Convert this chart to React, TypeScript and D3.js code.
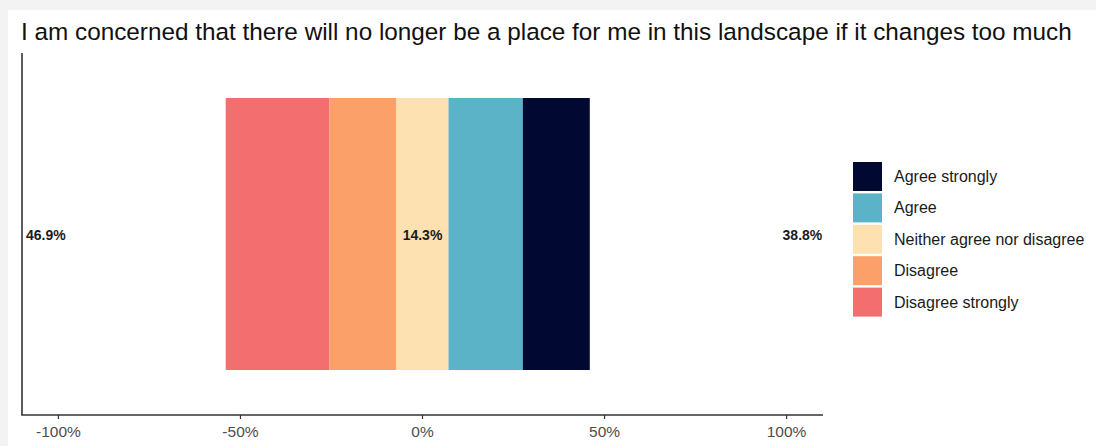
import React from "react";
import * as d3 from "d3";

const question = "I am concerned that there will no longer be a place for me in this landscape if it changes too much";
const categories = ["Disagree strongly", "Disagree", "Neither agree nor disagree", "Agree", "Agree strongly"];
const values = [28.5, 18.4, 14.3, 20.4, 18.4];
const colors = ["#F36F6F", "#FBA068", "#FDE1B0", "#5AB3C6", "#010932"];
const legendOrder = ["Agree strongly", "Agree", "Neither agree nor disagree", "Disagree", "Disagree strongly"];
const tickValues = [-100, -50, 0, 50, 100];
const labelLeft = "46.9%";
const labelMid = "14.3%";
const labelRight = "38.8%";

const W = 1096;
const H = 446;

export default function App() {
  const x = d3.scaleLinear().domain([-110, 110]).range([22, 823]);
  const y = d3.scaleBand().domain([question]).range([53, 415]).padding(0.142);

  // stacked segments with neutral centered at 0
  const neutralIdx = 2;
  const start = -(values[0] + values[1] + values[neutralIdx] / 2);
  let acc = start;
  const segs = values.map((v, i) => {
    const s = { cat: categories[i], x0: acc, x1: acc + v, color: colors[i] };
    acc += v;
    return s;
  });

  const bandTop = y(question) as number;
  const bw = y.bandwidth();
  const cy = bandTop + bw / 2;
  const font = "'Liberation Sans', Arial, Helvetica, sans-serif";
  const axisY = 415;
  const colorOf = d3.scaleOrdinal<string, string>().domain(categories).range(colors);

  return (
    <div style={{ position: "absolute", left: 0, top: 0 }}>
      <svg width={W} height={H} style={{ display: "block" }} fontFamily={font}>
        <rect x={0} y={0} width={W} height={H} fill="#f3f3f3" />
        <rect x={8} y={10} width={W - 8} height={H - 10} fill="#ffffff" />
        <text x={21} y={40} fontSize={24.3} fill="#111">{question}</text>

        {segs.map((s) => (
          <rect key={s.cat} x={x(s.x0)} y={bandTop} width={x(s.x1) - x(s.x0)} height={bw} fill={s.color} />
        ))}

        {/* axes */}
        <line x1={x.range()[0]} x2={x.range()[0]} y1={53} y2={axisY} stroke="#333" strokeWidth={1.6} />
        <line x1={x.range()[0] - 0.8} x2={x.range()[1]} y1={axisY} y2={axisY} stroke="#333" strokeWidth={1.6} />
        {tickValues.map((t) => (
          <g key={t}>
            <line x1={x(t)} x2={x(t)} y1={axisY} y2={axisY + 4} stroke="#333" strokeWidth={1.2} />
            <text x={x(t)} y={axisY + 22} fontSize={15.5} fill="#4d4d4d" textAnchor="middle">{`${t}%`}</text>
          </g>
        ))}

        {/* labels */}
        <text x={x(-108.9)} y={cy + 6} fontSize={14} fontWeight="bold" fill="#1a1a1a" textAnchor="start">{labelLeft}</text>
        <text x={x(0)} y={cy + 6} fontSize={14} fontWeight="bold" fill="#1a1a1a" textAnchor="middle">{labelMid}</text>
        <text x={x(109.8)} y={cy + 6} fontSize={14} fontWeight="bold" fill="#1a1a1a" textAnchor="end">{labelRight}</text>

        {/* legend */}
        {legendOrder.map((c, i) => (
          <g key={c} transform={`translate(853, ${162 + i * 31.4})`}>
            <rect x={0} y={0} width={29} height={29} fill={colorOf(c)} />
            <text x={41} y={20} fontSize={16} fill="#1a1a1a">{c}</text>
          </g>
        ))}
      </svg>
    </div>
  );
}
